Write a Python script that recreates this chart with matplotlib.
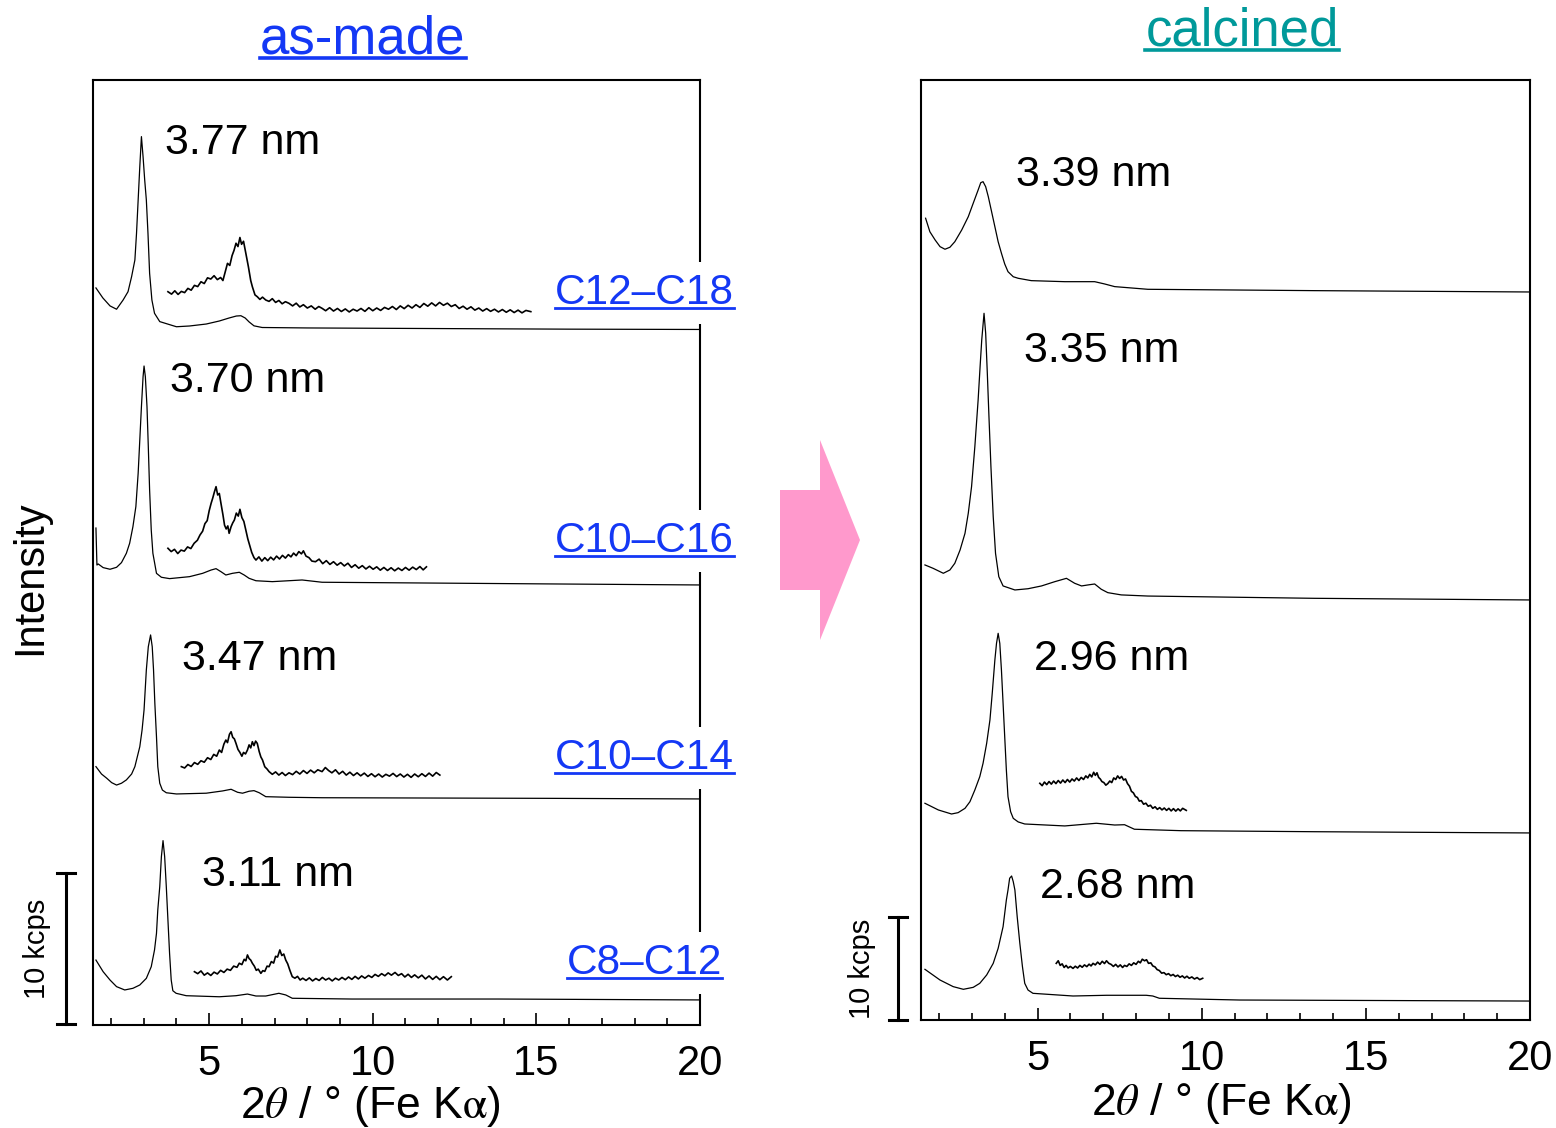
import matplotlib
matplotlib.use("Agg")
import matplotlib.pyplot as plt
from matplotlib.lines import Line2D
from matplotlib.patches import Polygon
from matplotlib.ticker import MultipleLocator, FixedLocator

# -----------------------------
# Fonts
# -----------------------------
plt.rcParams["font.family"] = ["Liberation Sans", "DejaVu Sans"]
plt.rcParams["mathtext.fontset"] = "stix"

# -----------------------------
# As-made patterns (2theta in deg, intensity in kcps, stacked)
# -----------------------------
tt_c12 = [1.54, 1.75, 1.97, 2.17, 2.37, 2.52, 2.63, 2.73, 2.78, 2.83, 2.88, 2.93,
          2.98, 3.03, 3.08, 3.13, 3.18, 3.25, 3.33, 3.49, 4.0, 4.40, 4.91, 5.31,
          5.61, 5.83, 5.97, 6.10, 6.22, 6.37, 6.62, 8.0, 12.0, 16.0, 20.0]
int_c12 = [48.81, 48.15, 47.62, 47.40, 48.01, 48.56, 49.56, 50.66, 52.43, 54.64,
           56.84, 58.83, 57.50, 55.96, 54.64, 52.43, 49.78, 48.01, 47.13, 46.58,
           46.24, 46.29, 46.42, 46.62, 46.82, 46.95, 46.97, 46.82, 46.56, 46.30,
           46.19, 46.16, 46.12, 46.08, 46.06]

tt_c12_zoom = [3.74, 3.85, 3.95, 4.05, 4.15, 4.25, 4.35, 4.45, 4.55, 4.65, 4.75, 4.85,
               4.95, 5.05, 5.15, 5.25, 5.35, 5.42, 5.50, 5.56, 5.63, 5.70, 5.76, 5.82,
               5.88, 5.94, 5.99, 6.05, 6.12, 6.20, 6.27, 6.32, 6.40, 6.47, 6.55, 6.63,
               6.73, 6.83, 6.93, 7.03, 7.13, 7.23, 7.33, 7.44, 7.55, 7.66, 7.77, 7.88,
               8.00, 8.12, 8.24, 8.35, 8.45, 8.56, 8.68, 8.80, 8.92, 9.04, 9.16, 9.28,
               9.40, 9.52, 9.64, 9.76, 9.88, 10.00, 10.12, 10.24, 10.36, 10.48, 10.60,
               10.72, 10.84, 10.96, 11.08, 11.20, 11.32, 11.44, 11.56, 11.68, 11.80,
               11.92, 12.04, 12.16, 12.28, 12.40, 12.52, 12.64, 12.76, 12.88, 13.00,
               13.12, 13.24, 13.36, 13.48, 13.60, 13.72, 13.84, 13.96, 14.08, 14.20,
               14.32, 14.44, 14.56, 14.68, 14.83]
int_c12_zoom = [48.56, 48.40, 48.62, 48.38, 48.58, 48.50, 48.78, 48.66, 48.98, 48.90,
                49.22, 49.10, 49.48, 49.40, 49.62, 49.36, 49.50, 49.30, 49.95, 50.44,
                50.30, 50.95, 51.30, 51.77, 51.55, 52.15, 51.70, 51.90, 51.11, 50.20,
                49.30, 48.89, 48.35, 48.23, 48.05, 48.20, 48.01, 47.92, 48.10, 47.85,
                47.98, 47.76, 47.90, 47.79, 47.62, 47.80, 47.55, 47.70, 47.48, 47.62,
                47.40, 47.58, 47.46, 47.30, 47.50, 47.28, 47.45, 47.25, 47.42, 47.22,
                47.40, 47.28, 47.45, 47.26, 47.50, 47.30, 47.48, 47.32, 47.52, 47.40,
                47.58, 47.38, 47.62, 47.44, 47.66, 47.48, 47.70, 47.52, 47.78, 47.60,
                47.82, 47.62, 47.85, 47.66, 47.80, 47.58, 47.70, 47.45, 47.60, 47.40,
                47.56, 47.34, 47.48, 47.28, 47.44, 47.26, 47.40, 47.22, 47.38, 47.20,
                47.36, 47.18, 47.34, 47.16, 47.32, 47.24]

tt_c10_16 = [1.54, 1.57, 1.61, 1.76, 1.97, 2.17, 2.32, 2.47, 2.57, 2.67, 2.76, 2.83,
             2.88, 2.93, 2.98, 3.01, 3.05, 3.10, 3.14, 3.18, 3.23, 3.28, 3.39, 3.54,
             3.79, 4.40, 4.80, 5.06, 5.21, 5.36, 5.51, 5.71, 5.92, 6.07, 6.22, 6.43,
             6.93, 7.84, 8.45, 15.34, 20.0]
int_c10_16 = [32.91, 30.46, 30.53, 30.29, 30.18, 30.31, 30.62, 31.24, 31.90, 33.00,
              34.33, 36.54, 38.74, 40.95, 42.93, 43.64, 42.93, 40.95, 38.30, 35.43,
              32.78, 31.24, 29.91, 29.65, 29.56, 29.69, 29.91, 30.13, 30.22, 30.02,
              29.80, 29.91, 29.98, 29.80, 29.58, 29.42, 29.36, 29.47, 29.32, 29.21,
              29.14]

tt_c10_16_zoom = [3.74, 3.84, 3.94, 4.04, 4.14, 4.24, 4.34, 4.44, 4.54, 4.64, 4.72,
                  4.80, 4.87, 4.94, 5.00, 5.06, 5.11, 5.16, 5.21, 5.26, 5.31, 5.36,
                  5.42, 5.47, 5.52, 5.57, 5.61, 5.67, 5.72, 5.77, 5.83, 5.89, 5.94,
                  6.00, 6.06, 6.12, 6.18, 6.24, 6.30, 6.37, 6.43, 6.52, 6.61, 6.70,
                  6.79, 6.88, 6.97, 7.06, 7.15, 7.24, 7.33, 7.42, 7.50, 7.58, 7.66,
                  7.74, 7.82, 7.88, 7.96, 8.05, 8.14, 8.25, 8.36, 8.47, 8.58, 8.69,
                  8.80, 8.91, 9.02, 9.13, 9.24, 9.35, 9.46, 9.57, 9.68, 9.79, 9.90,
                  10.01, 10.12, 10.23, 10.34, 10.45, 10.56, 10.67, 10.78, 10.89,
                  11.00, 11.11, 11.22, 11.33, 11.44, 11.54, 11.64]
int_c10_16_zoom = [31.57, 31.35, 31.50, 31.22, 31.45, 31.38, 31.66, 31.55, 31.90,
                   32.10, 32.45, 32.70, 33.20, 33.40, 34.05, 34.55, 34.90, 35.30,
                   35.65, 35.10, 35.20, 34.55, 33.80, 33.10, 32.85, 33.05, 32.56,
                   33.00, 33.25, 33.44, 33.90, 33.70, 34.15, 33.60, 33.35, 32.78,
                   32.20, 31.75, 31.30, 30.95, 30.79, 31.00, 30.72, 30.95, 30.75,
                   30.98, 30.80, 31.05, 30.86, 31.10, 30.92, 31.15, 31.00, 31.25,
                   31.08, 31.35, 31.20, 31.40, 31.05, 30.95, 30.72, 30.68, 30.85,
                   30.55, 30.75, 30.50, 30.68, 30.45, 30.62, 30.40, 30.58, 30.30,
                   30.48, 30.25, 30.42, 30.20, 30.38, 30.18, 30.34, 30.12, 30.30,
                   30.10, 30.28, 30.08, 30.26, 30.10, 30.30, 30.12, 30.32, 30.16,
                   30.36, 30.14, 30.34]

tt_c10_14 = [1.54, 1.71, 1.87, 2.02, 2.17, 2.32, 2.47, 2.63, 2.73, 2.83, 2.88, 2.95,
             3.01, 3.08, 3.14, 3.21, 3.26, 3.30, 3.34, 3.39, 3.43, 3.49, 3.57, 3.69,
             4.0, 4.91, 5.41, 5.67, 5.87, 6.02, 6.22, 6.37, 6.53, 6.73, 7.44, 8.45,
             15.34, 20.0]
int_c10_14 = [17.11, 16.62, 16.34, 16.05, 15.89, 16.01, 16.23, 16.62, 17.11, 17.99,
              18.43, 19.54, 20.86, 23.51, 25.05, 25.83, 25.05, 23.51, 21.30, 19.09,
              17.11, 16.01, 15.56, 15.38, 15.30, 15.35, 15.50, 15.61, 15.41, 15.35,
              15.48, 15.52, 15.38, 15.12, 15.08, 15.05, 15.01, 14.97]

tt_c10_14_zoom = [4.15, 4.25, 4.35, 4.45, 4.55, 4.65, 4.75, 4.85, 4.95, 5.05, 5.14,
                  5.23, 5.31, 5.38, 5.45, 5.51, 5.56, 5.62, 5.67, 5.72, 5.77, 5.82,
                  5.88, 5.94, 6.00, 6.05, 6.11, 6.17, 6.22, 6.27, 6.32, 6.37, 6.42,
                  6.47, 6.53, 6.58, 6.63, 6.70, 6.77, 6.83, 6.93, 7.03, 7.13, 7.23,
                  7.33, 7.44, 7.55, 7.66, 7.77, 7.88, 7.99, 8.10, 8.21, 8.32, 8.45,
                  8.55, 8.65, 8.75, 8.86, 8.97, 9.08, 9.19, 9.30, 9.41, 9.52, 9.63,
                  9.74, 9.85, 9.96, 10.07, 10.18, 10.29, 10.40, 10.51, 10.62, 10.73,
                  10.84, 10.95, 11.06, 11.17, 11.28, 11.39, 11.50, 11.61, 11.72,
                  11.83, 11.94, 12.05]
int_c10_14_zoom = [17.11, 17.02, 17.25, 17.12, 17.38, 17.26, 17.50, 17.40, 17.70,
                   17.58, 17.92, 17.80, 18.21, 18.05, 18.60, 18.87, 18.70, 19.25,
                   19.42, 19.05, 18.95, 18.65, 18.25, 18.05, 17.80, 18.05, 17.95,
                   18.21, 18.55, 18.35, 18.76, 18.50, 18.80, 18.65, 18.10, 17.75,
                   17.55, 17.10, 16.95, 16.78, 16.60, 16.76, 16.55, 16.72, 16.52,
                   16.70, 16.58, 16.80, 16.62, 16.85, 16.66, 16.88, 16.70, 16.90,
                   16.78, 17.05, 16.85, 16.70, 16.90, 16.62, 16.80, 16.55, 16.74,
                   16.52, 16.70, 16.50, 16.68, 16.46, 16.64, 16.44, 16.62, 16.42,
                   16.60, 16.48, 16.66, 16.45, 16.62, 16.42, 16.60, 16.40, 16.62,
                   16.44, 16.64, 16.46, 16.68, 16.48, 16.72, 16.55]

tt_c8 = [1.54, 1.76, 1.97, 2.17, 2.42, 2.67, 2.88, 3.08, 3.23, 3.33, 3.39, 3.43,
         3.49, 3.54, 3.59, 3.64, 3.69, 3.74, 3.79, 3.84, 3.89, 3.99, 4.30, 5.31,
         5.82, 6.17, 6.43, 6.73, 7.13, 7.34, 7.54, 9.36, 13.82, 20.0]
int_c8 = [4.30, 3.53, 2.98, 2.54, 2.32, 2.43, 2.65, 3.09, 3.86, 4.97, 6.07, 7.62,
          9.16, 11.15, 12.21, 11.15, 9.16, 6.95, 4.75, 2.98, 2.27, 2.10, 1.94, 1.87,
          1.94, 2.05, 1.92, 1.92, 2.10, 1.99, 1.77, 1.72, 1.72, 1.66]

tt_c8_zoom = [4.55, 4.65, 4.75, 4.85, 4.95, 5.05, 5.15, 5.25, 5.35, 5.45, 5.55, 5.65,
              5.75, 5.85, 5.92, 6.00, 6.07, 6.12, 6.17, 6.22, 6.27, 6.32, 6.38, 6.44,
              6.50, 6.58, 6.64, 6.70, 6.77, 6.83, 6.90, 6.97, 7.03, 7.09, 7.16, 7.22,
              7.28, 7.34, 7.40, 7.47, 7.54, 7.62, 7.70, 7.78, 7.86, 7.96, 8.06, 8.16,
              8.26, 8.36, 8.46, 8.56, 8.66, 8.76, 8.86, 8.96, 9.06, 9.16, 9.26, 9.36,
              9.46, 9.56, 9.66, 9.76, 9.87, 9.97, 10.07, 10.17, 10.27, 10.37, 10.47,
              10.57, 10.68, 10.78, 10.88, 10.98, 11.08, 11.18, 11.28, 11.39, 11.50,
              11.61, 11.72, 11.83, 11.94, 12.05, 12.16, 12.28, 12.40]
int_c8_zoom = [3.53, 3.40, 3.58, 3.30, 3.45, 3.28, 3.50, 3.38, 3.62, 3.48, 3.70, 3.62,
               3.90, 3.82, 4.09, 4.00, 4.35, 4.25, 4.64, 4.40, 4.30, 4.09, 3.90, 3.62,
               3.70, 3.42, 3.60, 3.55, 3.90, 3.86, 4.20, 4.10, 4.55, 4.50, 4.97, 4.60,
               4.70, 4.30, 4.05, 3.60, 3.20, 3.10, 3.22, 2.98, 3.10, 2.95, 3.12, 2.92,
               3.08, 2.95, 3.15, 2.98, 3.10, 2.92, 3.10, 2.98, 3.15, 3.00, 3.18, 3.02,
               3.22, 3.05, 3.25, 3.10, 3.28, 3.15, 3.35, 3.22, 3.40, 3.26, 3.45, 3.30,
               3.48, 3.28, 3.40, 3.18, 3.36, 3.15, 3.32, 3.12, 3.30, 3.05, 3.25, 3.02,
               3.22, 3.00, 3.20, 2.98, 3.20]

# -----------------------------
# Calcined patterns
# -----------------------------
tt_cal_339 = [1.59, 1.72, 1.88, 2.03, 2.18, 2.33, 2.48, 2.69, 2.89, 3.04, 3.19, 3.27,
              3.34, 3.42, 3.50, 3.60, 3.70, 3.80, 3.90, 4.00, 4.10, 4.26, 4.41, 4.81,
              5.83, 6.74, 7.04, 7.35, 8.36, 13.43, 20.0]
int_cal_339 = [77.84, 76.53, 75.73, 75.08, 74.83, 75.02, 75.56, 76.70, 77.99, 79.29,
               80.58, 81.29, 81.39, 80.90, 79.93, 78.48, 77.02, 75.56, 74.44, 73.40,
               72.65, 72.16, 72.01, 71.78, 71.68, 71.68, 71.46, 71.20, 70.94, 70.81,
               70.68]

tt_cal_335 = [1.57, 1.82, 2.13, 2.33, 2.48, 2.64, 2.79, 2.89, 2.99, 3.09, 3.19, 3.25,
              3.30, 3.37, 3.42, 3.47, 3.52, 3.58, 3.65, 3.72, 3.82, 3.95, 4.31, 4.71,
              5.12, 5.52, 5.88, 6.13, 6.34, 6.54, 6.74, 6.94, 7.14, 7.55, 8.36, 13.43,
              20.0]
int_cal_335 = [44.18, 43.85, 43.37, 43.69, 44.34, 45.63, 47.25, 49.20, 51.78, 55.66,
               60.19, 63.43, 66.02, 68.61, 66.67, 62.79, 58.57, 53.72, 48.86, 45.31,
               43.04, 42.14, 41.75, 41.87, 42.14, 42.55, 42.88, 42.40, 42.14, 42.24,
               42.33, 41.82, 41.49, 41.27, 41.16, 40.94, 40.78]

tt_cal_296 = [1.57, 1.98, 2.38, 2.58, 2.79, 2.94, 3.09, 3.24, 3.34, 3.45, 3.55, 3.62,
              3.70, 3.75, 3.80, 3.85, 3.90, 3.95, 4.00, 4.05, 4.10, 4.18, 4.26, 4.41,
              4.61, 5.83, 6.79, 7.35, 7.65, 7.95, 9.37, 13.43, 20.0]
int_cal_296 = [21.04, 20.39, 20.00, 20.13, 20.55, 21.19, 22.33, 23.62, 24.92, 26.86,
               29.13, 31.72, 34.95, 36.57, 37.54, 36.57, 33.98, 30.75, 27.50, 24.27,
               21.68, 20.22, 19.58, 19.23, 19.03, 18.84, 19.10, 18.93, 18.96, 18.52,
               18.38, 18.28, 18.16]

tt_cal_296_zoom = [5.07, 5.14, 5.21, 5.28, 5.35, 5.42, 5.49, 5.56, 5.63, 5.70, 5.77,
                   5.84, 5.91, 5.98, 6.05, 6.12, 6.19, 6.26, 6.33, 6.40, 6.47, 6.53,
                   6.59, 6.65, 6.71, 6.76, 6.81, 6.86, 6.91, 6.96, 7.02, 7.08, 7.14,
                   7.20, 7.26, 7.32, 7.38, 7.44, 7.50, 7.56, 7.62, 7.68, 7.74, 7.80,
                   7.86, 7.92, 7.98, 8.04, 8.10, 8.16, 8.23, 8.30, 8.37, 8.44, 8.51,
                   8.58, 8.65, 8.72, 8.79, 8.86, 8.93, 9.00, 9.07, 9.14, 9.21, 9.28,
                   9.35, 9.42, 9.53]
int_cal_296_zoom = [22.98, 22.75, 23.10, 22.85, 23.15, 22.90, 23.20, 22.95, 23.25,
                    23.00, 23.30, 23.05, 23.35, 23.10, 23.40, 23.20, 23.50, 23.25,
                    23.55, 23.35, 23.70, 23.50, 23.85, 23.60, 24.05, 23.75, 24.00,
                    23.55, 23.40, 23.15, 23.05, 22.80, 22.95, 23.20, 23.05, 23.50,
                    23.35, 23.70, 23.45, 23.65, 23.30, 23.40, 22.95, 22.70, 22.20,
                    22.05, 21.70, 21.60, 21.25, 21.30, 20.95, 21.05, 20.75, 20.85,
                    20.55, 20.70, 20.45, 20.62, 20.40, 20.58, 20.35, 20.55, 20.30,
                    20.52, 20.28, 20.50, 20.30, 20.55, 20.35]

tt_cal_268 = [1.57, 2.03, 2.43, 2.74, 3.04, 3.24, 3.45, 3.65, 3.80, 3.95, 4.05, 4.10,
              4.15, 4.21, 4.26, 4.31, 4.38, 4.46, 4.54, 4.61, 4.71, 4.86, 6.08, 7.10,
              8.31, 8.51, 8.71, 11.15, 20.0]
int_cal_268 = [4.92, 3.88, 3.24, 2.98, 3.17, 3.56, 4.37, 5.50, 6.96, 9.06, 11.65,
               12.62, 13.76, 13.98, 13.43, 12.62, 10.03, 7.45, 5.18, 3.56, 2.91, 2.59,
               2.33, 2.40, 2.40, 2.33, 2.11, 1.94, 1.84]

tt_cal_268_zoom = [5.57, 5.63, 5.69, 5.75, 5.81, 5.87, 5.93, 6.00, 6.08, 6.15, 6.22,
                   6.29, 6.36, 6.43, 6.50, 6.57, 6.63, 6.69, 6.76, 6.83, 6.90, 6.97,
                   7.04, 7.10, 7.17, 7.24, 7.31, 7.38, 7.45, 7.52, 7.59, 7.65, 7.72,
                   7.79, 7.86, 7.93, 8.00, 8.07, 8.13, 8.19, 8.26, 8.32, 8.38, 8.45,
                   8.51, 8.58, 8.64, 8.71, 8.78, 8.85, 8.92, 8.99, 9.06, 9.13, 9.20,
                   9.27, 9.34, 9.41, 9.48, 9.55, 9.62, 9.70, 9.78, 9.86, 9.94, 10.03]
int_cal_268_zoom = [5.50, 5.75, 5.30, 5.45, 5.10, 5.30, 5.05, 5.20, 5.01, 5.22, 5.05,
                    5.30, 5.12, 5.35, 5.18, 5.42, 5.25, 5.50, 5.35, 5.62, 5.40, 5.70,
                    5.48, 5.75, 5.50, 5.40, 5.20, 5.40, 5.15, 5.35, 5.10, 5.30, 5.20,
                    5.45, 5.30, 5.55, 5.40, 5.70, 5.55, 5.90, 5.75, 5.85, 5.50, 5.55,
                    5.25, 5.15, 4.90, 4.80, 4.55, 4.60, 4.40, 4.50, 4.30, 4.42, 4.22,
                    4.35, 4.15, 4.28, 4.08, 4.25, 4.05, 4.18, 3.98, 4.12, 3.92, 4.05]

# -----------------------------
# Labels
# -----------------------------
asmade_samples = ["C12\u2013C18", "C10\u2013C16", "C10\u2013C14", "C8\u2013C12"]
asmade_spacings = ["3.77 nm", "3.70 nm", "3.47 nm", "3.11 nm"]
calcined_spacings = ["3.39 nm", "3.35 nm", "2.96 nm", "2.68 nm"]

BLUE = "#1438f5"
TEAL = "#00999a"
PINK = "#ff99cc"
W, H = 1556, 1128

# -----------------------------
# Create figure
# -----------------------------
fig = plt.figure(figsize=(W / 100, H / 100), dpi=100)
ax_l = fig.add_axes([93 / W, 1 - 1025 / H, 607 / W, 945 / H])
ax_r = fig.add_axes([921 / W, 1 - 1020 / H, 609 / W, 940 / H])

main_kw = dict(color="black", linewidth=0.9)
zoom_kw = dict(color="black", linewidth=1.2)

ax_l.plot(tt_c12, int_c12, **main_kw)
ax_l.plot(tt_c12_zoom, int_c12_zoom, **zoom_kw)
ax_l.plot(tt_c10_16, int_c10_16, **main_kw)
ax_l.plot(tt_c10_16_zoom, int_c10_16_zoom, **zoom_kw)
ax_l.plot(tt_c10_14, int_c10_14, **main_kw)
ax_l.plot(tt_c10_14_zoom, int_c10_14_zoom, **zoom_kw)
ax_l.plot(tt_c8, int_c8, **main_kw)
ax_l.plot(tt_c8_zoom, int_c8_zoom, **zoom_kw)

ax_r.plot(tt_cal_339, int_cal_339, **main_kw)
ax_r.plot(tt_cal_335, int_cal_335, **main_kw)
ax_r.plot(tt_cal_296, int_cal_296, **main_kw)
ax_r.plot(tt_cal_296_zoom, int_cal_296_zoom, **zoom_kw)
ax_r.plot(tt_cal_268, int_cal_268, **main_kw)
ax_r.plot(tt_cal_268_zoom, int_cal_268_zoom, **zoom_kw)

ax_l.set_ylim(0, 62.58)
ax_r.set_ylim(0, 91.26)

# -----------------------------
# Axis formatting
# -----------------------------
for ax, lab_x, lab_y in [(ax_l, 0.456, -0.062), (ax_r, 0.493, -0.065)]:
    ax.set_xlim(1.45, 20)
    ax.xaxis.set_major_locator(FixedLocator([5, 10, 15, 20]))
    ax.xaxis.set_minor_locator(MultipleLocator(1))
    ax.tick_params(axis="x", which="major", direction="in", length=9, width=1.2,
                   labelsize=30, pad=14)
    ax.tick_params(axis="x", which="minor", direction="in", length=5, width=1.2)
    ax.set_yticks([])
    for sp in ax.spines.values():
        sp.set_linewidth(1.5)
    ax.set_xlabel(r"2$\theta$ / ° (Fe K$\mathrm{\alpha}$)", fontsize=32)
    ax.xaxis.set_label_coords(lab_x, lab_y)

# d-spacing labels
for txt, x, y in zip(asmade_spacings, [3.64, 3.79, 4.16, 4.79], [58.4, 42.65, 24.24, 9.93]):
    ax_l.text(x, y, txt, fontsize=31, va="center", ha="left")
for txt, x, y in zip(calcined_spacings, [4.34, 4.58, 4.88, 5.07], [82.0, 64.94, 35.04, 12.9]):
    ax_r.text(x, y, txt, fontsize=31, va="center", ha="left")

# sample labels (white box hides the right spine, like the original)
sample_texts = []
for txt, y in zip(asmade_samples, [48.48, 32.05, 17.68, 4.10]):
    t = ax_l.text(18.3, y, txt, fontsize=30.5, color=BLUE, va="center", ha="center",
                  zorder=5, bbox=dict(facecolor="white", edgecolor="none", pad=8))
    sample_texts.append(t)

# scale bars (10 kcps)
for ax, x0, y0, cap, tx in [(ax_l, 0.63, 0.07, 0.27, -0.25), (ax_r, 0.75, 0.0, 0.27, -0.34)]:
    ax.plot([x0, x0], [y0, y0 + 10], color="black", linewidth=2.2, clip_on=False)
    ax.plot([x0 - cap, x0 + cap], [y0, y0], color="black", linewidth=2.2, clip_on=False)
    ax.plot([x0 - cap, x0 + cap], [y0 + 10, y0 + 10], color="black", linewidth=2.2,
            clip_on=False)
    ax.text(tx, y0 + 5, "10 kcps", fontsize=21, rotation=90, va="center", ha="center")

fig.text(30 / W, 1 - 578 / H, "Intensity", fontsize=30, rotation=90,
         va="center", ha="center")

# titles
t_asmade = fig.text(363 / W, 1 - 53 / H, "as-made", fontsize=38, color=BLUE,
                    ha="center", va="baseline")
t_calc = fig.text(1242 / W, 1 - 45 / H, "calcined", fontsize=38, color=TEAL,
                  ha="center", va="baseline")

# pink arrow
arrow_px = [(780, 490), (820, 490), (820, 440), (860, 540), (820, 640), (820, 590), (780, 590)]
fig.add_artist(Polygon([(x / W, 1 - y / H) for x, y in arrow_px], closed=True,
                       facecolor=PINK, edgecolor="none", transform=fig.transFigure))

# -----------------------------
# Underlines
# -----------------------------
fig.canvas.draw()
inv = fig.transFigure.inverted()
for t, col, lw, frac in ([(t, BLUE, 2.0, 0.13) for t in sample_texts]
                         + [(t_asmade, BLUE, 2.6, 0.12), (t_calc, TEAL, 2.6, 0.12)]):
    bb = t.get_window_extent()
    yy = bb.y0 + frac * bb.height
    (fx0, fy), (fx1, _) = inv.transform([(bb.x0, yy), (bb.x1, yy)])
    fig.add_artist(Line2D([fx0, fx1], [fy, fy], color=col, linewidth=lw,
                          transform=fig.transFigure))

fig.savefig("out.png", dpi=100)
